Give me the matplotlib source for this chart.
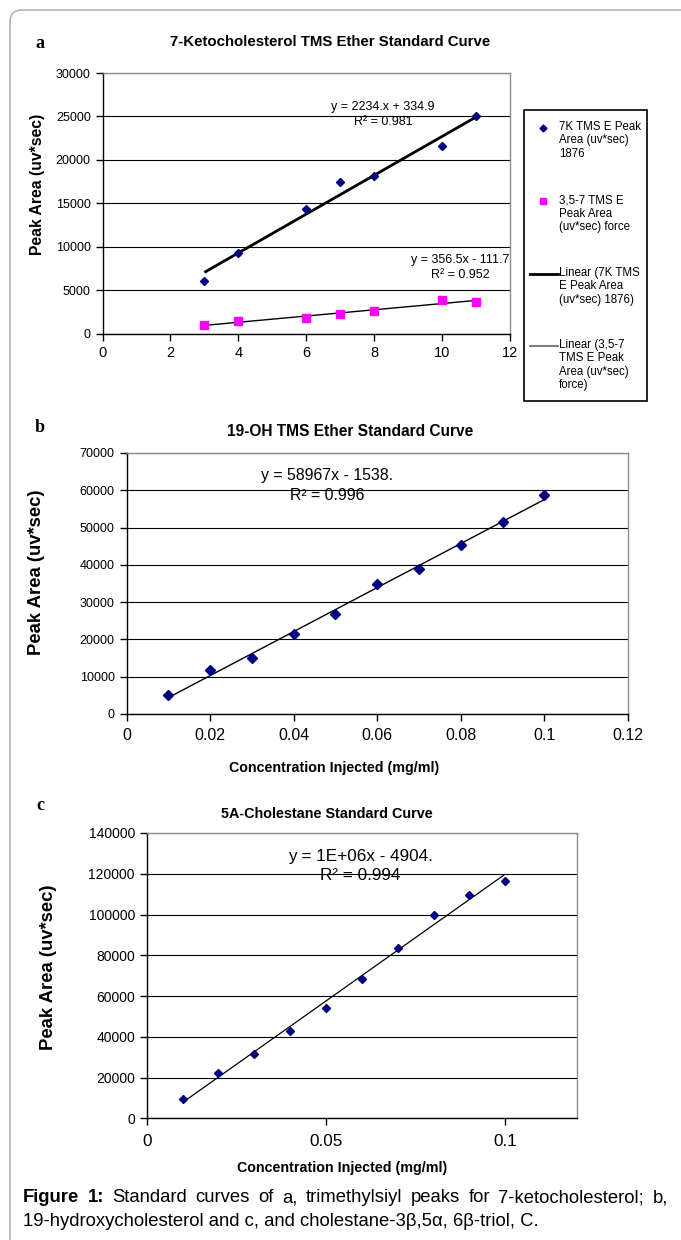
import numpy as np
import matplotlib
matplotlib.use("Agg")
import matplotlib.pyplot as plt
from matplotlib.patches import FancyBboxPatch, Rectangle
from matplotlib.transforms import IdentityTransform

# ---------------- data ----------------
conc_a = [3, 4, 6, 7, 8, 10, 11]
keto_area = [6100, 9300, 14300, 17500, 18100, 21600, 25000]
triol_area = [1000, 1400, 1800, 2300, 2600, 3900, 3600]

conc_b = [0.01, 0.02, 0.03, 0.04, 0.05, 0.06, 0.07, 0.08, 0.09, 0.10]
oh19_area = [5100, 11700, 15000, 21500, 26900, 34800, 38900, 45300, 51600, 58800]

conc_c = [0.01, 0.02, 0.03, 0.04, 0.05, 0.06, 0.07, 0.08, 0.09, 0.10]
chol_area = [9500, 22100, 31400, 42800, 53900, 68600, 83800, 99800, 109800, 116300]

xticks_a = [0, 2, 4, 6, 8, 10, 12]
yticks_a = [0, 5000, 10000, 15000, 20000, 25000, 30000]
xticks_b = [0, 0.02, 0.04, 0.06, 0.08, 0.1, 0.12]
xticklabels_b = ["0", "0.02", "0.04", "0.06", "0.08", "0.1", "0.12"]
yticks_b = [0, 10000, 20000, 30000, 40000, 50000, 60000, 70000]
xticks_c = [0, 0.05, 0.1]
xticklabels_c = ["0", "0.05", "0.1"]
yticks_c = [0, 20000, 40000, 60000, 80000, 100000, 120000, 140000]

legend_labels = ["7K TMS E Peak\nArea (uv*sec)\n1876",
                 "3,5-7 TMS E\nPeak Area\n(uv*sec) force",
                 "Linear (7K TMS\nE Peak Area\n(uv*sec) 1876)",
                 "Linear (3,5-7\nTMS E Peak\nArea (uv*sec)\nforce)"]

# ---------------- figure ----------------
W, H = 681, 1240
plt.rcParams['font.family'] = ['Liberation Sans', 'DejaVu Sans']
fig = plt.figure(figsize=(W / 100, H / 100), dpi=100)
fig.patch.set_facecolor('white')


def fx(px):
    return px / W


def fy(py):
    return 1 - py / H


def make_axes(l, r, t, b):
    return fig.add_axes([fx(l), fy(b), fx(r) - fx(l), fy(t) - fy(b)])


# outer border (rounded top-left corner)
border = FancyBboxPatch((10, -60), 900, H - 10 + 60, boxstyle="round,pad=0,rounding_size=12",
                        transform=IdentityTransform(), facecolor='none',
                        edgecolor='#b4b4b4', linewidth=1.2)
fig.patches.append(border)

NAVY = '#000080'
MAG = '#FF00FF'


def style_axes(ax, yt, xsize, ysize, xpad, ypad):
    ax.set_facecolor('white')
    for s in ['left', 'bottom']:
        ax.spines[s].set_color('black')
        ax.spines[s].set_linewidth(1.0)
    for s in ['top', 'right']:
        ax.spines[s].set_color('#8c8c8c')
        ax.spines[s].set_linewidth(1.0)
    ax.set_yticks(yt)
    ax.yaxis.grid(True, color='black', linewidth=0.8)
    ax.set_axisbelow(True)
    ax.tick_params(axis='x', direction='out', length=5, width=1, labelsize=xsize, pad=xpad)
    ax.tick_params(axis='y', direction='out', length=5, width=1, labelsize=ysize, pad=ypad)


def trend(ax, x, y, lw):
    k, c = np.polyfit(x, y, 1)
    xs = np.array([min(x), max(x)])
    ax.plot(xs, k * xs + c, color='black', linewidth=lw, zorder=3, solid_capstyle='butt')


# ---------------- panel a ----------------
axa = make_axes(102.5, 510, 73, 333.5)
axa.set_xlim(0, 12)
axa.set_ylim(0, 30000)
axa.set_xticks(xticks_a)
style_axes(axa, yticks_a, 10.5, 9, 4, 3.5)
axa.plot(conc_a, keto_area, linestyle='none', marker='D', markersize=4.4, color=NAVY, zorder=4)
axa.plot(conc_a, triol_area, linestyle='none', marker='s', markersize=5.5, color=MAG, zorder=4)
trend(axa, conc_a, keto_area, 2.0)
trend(axa, conc_a, triol_area, 1.0)
axa.set_ylabel("Peak Area (uv*sec)", fontsize=11.3, fontweight='bold')
axa.yaxis.set_label_coords(-0.142, 0.574)

fig.text(fx(40), fy(43), "a", family='Liberation Serif', fontweight='bold', fontsize=13,
         ha='center', va='center')
fig.text(fx(330), fy(42), "7-Ketocholesterol TMS Ether Standard Curve", fontsize=10.8,
         fontweight='bold', ha='center', va='center')
fig.text(fx(383), fy(107), "y = 2234.x + 334.9", fontsize=9, ha='center', va='center')
fig.text(fx(383), fy(122), "R² = 0.981", fontsize=9, ha='center', va='center')
fig.text(fx(460), fy(260), "y = 356.5x - 111.7", fontsize=9, ha='center', va='center')
fig.text(fx(460), fy(275), "R² = 0.952", fontsize=9, ha='center', va='center')

# legend (drawn in its own axes)
lg = make_axes(524, 647, 110, 401.5)
lg.set_xlim(524, 647)
lg.set_ylim(401.5, 110)
lg.axis('off')
lg.add_patch(Rectangle((524, 110), 123, 291.5, facecolor='white', edgecolor='black',
                       linewidth=1.2, clip_on=False))
first_rows = [128, 201.5, 274, 346]
lg.plot([543], [first_rows[0]], marker='D', markersize=3.5, color=NAVY, linestyle='none')
lg.plot([543], [first_rows[1]], marker='s', markersize=4.5, color=MAG, linestyle='none')
lg.plot([530, 558], [first_rows[2]] * 2, color='black', linewidth=2)
lg.plot([530, 558], [first_rows[3]] * 2, color='#7f7f7f', linewidth=1.5)
for row, lab in zip(first_rows, legend_labels):
    lg.text(559, row - 6.8, lab, fontsize=8.3, ha='left', va='top', linespacing=1.13)

# ---------------- panel b ----------------
axb = make_axes(126.5, 628, 453, 714)
axb.set_xlim(0, 0.12)
axb.set_ylim(0, 70000)
axb.set_xticks(xticks_b)
axb.set_xticklabels(xticklabels_b)
style_axes(axb, yticks_b, 11.5, 9, 5, 3.5)
axb.plot(conc_b, oh19_area, linestyle='none', marker='D', markersize=5, color=NAVY, zorder=4)
trend(axb, conc_b, oh19_area, 1.0)
axb.set_ylabel("Peak Area (uv*sec)", fontsize=13.3, fontweight='bold')
axb.yaxis.set_label_coords(-0.1625, 0.544)

fig.text(fx(40), fy(427), "b", family='Liberation Serif', fontweight='bold', fontsize=13,
         ha='center', va='center')
fig.text(fx(350), fy(432), "19-OH TMS Ether Standard Curve", fontsize=11.2,
         fontweight='bold', ha='center', va='center')
fig.text(fx(334), fy(768), "Concentration Injected (mg/ml)", fontsize=10.3,
         fontweight='bold', ha='center', va='center')
fig.text(fx(327), fy(476), "y = 58967x - 1538.", fontsize=11.4, ha='center', va='center')
fig.text(fx(327), fy(495), "R² = 0.996", fontsize=11.4, ha='center', va='center')

# ---------------- panel c ----------------
axc = make_axes(146.7, 577, 833, 1118.3)
axc.set_xlim(0, 0.12)
axc.set_ylim(0, 140000)
axc.set_xticks(xticks_c)
axc.set_xticklabels(xticklabels_c)
style_axes(axc, yticks_c, 12.3, 10, 6, 3.5)
axc.plot(conc_c, chol_area, linestyle='none', marker='D', markersize=4.5, color=NAVY, zorder=4)
trend(axc, conc_c, chol_area, 0.9)
axc.set_ylabel("Peak Area (uv*sec)", fontsize=13.3, fontweight='bold')
axc.yaxis.set_label_coords(-0.2094, 0.53)

fig.text(fx(40), fy(806), "c", family='Liberation Serif', fontweight='bold', fontsize=13,
         ha='center', va='center')
fig.text(fx(327), fy(814), "5A-Cholestane Standard Curve", fontsize=10.4,
         fontweight='bold', ha='center', va='center')
fig.text(fx(342), fy(1168), "Concentration Injected (mg/ml)", fontsize=10.3,
         fontweight='bold', ha='center', va='center')
fig.text(fx(360), fy(856), "y = 1E+06x - 4904.", fontsize=12.3, ha='center', va='center')
fig.text(fx(360), fy(876), "R² = 0.994", fontsize=12.3, ha='center', va='center')

# ---------------- caption (line 1 justified) ----------------
cap_size = 13.3
line1 = [("Figure", 'bold'), ("1:", 'bold'), ("Standard", 'normal'), ("curves", 'normal'),
         ("of", 'normal'), ("a,", 'normal'), ("trimethylsiyl", 'normal'), ("peaks", 'normal'),
         ("for", 'normal'), ("7-ketocholesterol;", 'normal'), ("b,", 'normal')]
x0, x1 = 23, 668
renderer = fig.canvas.get_renderer()
objs = []
widths = []
for w, wt in line1:
    t = fig.text(0, fy(1198), w, fontsize=cap_size, fontweight=wt, ha='left', va='center')
    objs.append(t)
    widths.append(t.get_window_extent(renderer).width)
gap = (x1 - x0 - sum(widths)) / (len(line1) - 1)
xpos = x0
for t, wd in zip(objs, widths):
    t.set_x(fx(xpos))
    xpos += wd + gap
fig.text(fx(23), fy(1221), "19-hydroxycholesterol and c, and cholestane-3β,5α, 6β-triol, C.",
         fontsize=cap_size, ha='left', va='center')

fig.savefig("out.png", dpi=100, facecolor='white')
